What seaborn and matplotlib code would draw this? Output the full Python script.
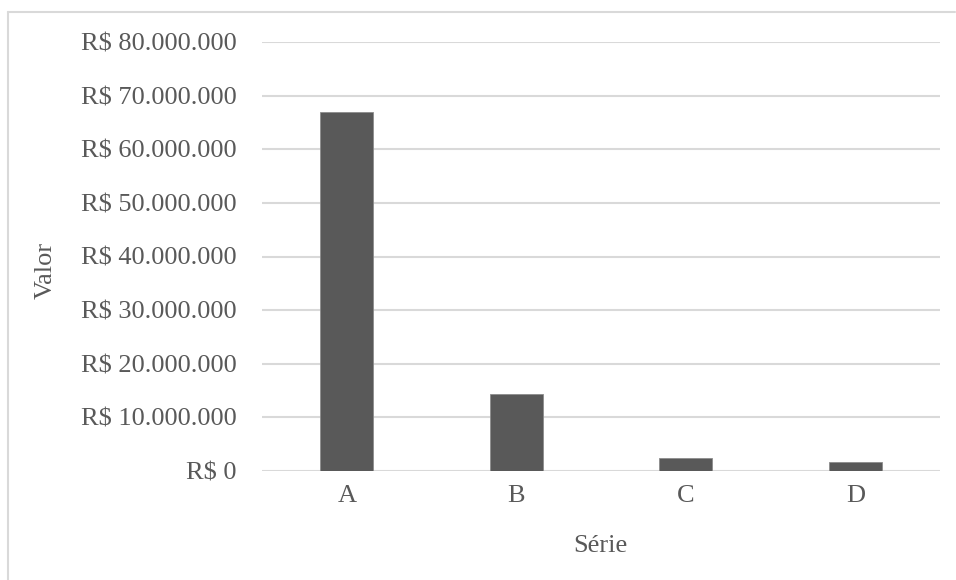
import matplotlib
matplotlib.use('Agg')
import matplotlib.pyplot as plt
import seaborn as sns
import pandas as pd
from matplotlib.ticker import FuncFormatter
from matplotlib.lines import Line2D

# ── Data ─────────────────────────────────────────────────────────────────────
series = ['A', 'B', 'C', 'D']
values = [66_900_000, 14_400_000, 2_400_000, 1_600_000]
y_ticks = list(range(0, 80_000_001, 10_000_000))

df = pd.DataFrame({'Série': series, 'Valor': values})

# ── Style ────────────────────────────────────────────────────────────────────
sns.set_style('white')
plt.rcParams['font.family'] = ['Liberation Serif', 'DejaVu Serif']
TEXT = '#595959'
GRID = '#d9d9d9'

fig = plt.figure(figsize=(9.56, 5.80), dpi=100)
ax = fig.add_axes([262 / 956, 1 - 471 / 580, (940 - 262) / 956, (471 - 42) / 580])

sns.barplot(data=df, x='Série', y='Valor', color='#595959', width=0.31,
            saturation=1, ax=ax, zorder=3, edgecolor='#8c8c8c', linewidth=0.6)

ax.set_ylim(0, 80_000_000)
ax.set_xlim(-0.5, 3.5)
ax.set_yticks(y_ticks)
ax.yaxis.set_major_formatter(
    FuncFormatter(lambda v, _: 'R$ ' + f'{int(v):,}'.replace(',', '.')))
ax.grid(axis='y', color=GRID, linewidth=1.5, zorder=0)
for s in ax.spines.values():
    s.set_visible(False)
ax.tick_params(axis='both', length=0, labelsize=19, labelcolor=TEXT)
ax.tick_params(axis='y', pad=18)
ax.tick_params(axis='x', pad=10)

fig.text(46 / 956, 1 - 270 / 580, 'Valor', rotation=90, ha='center', va='center',
         fontsize=19, color=TEXT)
fig.text(600 / 956, 1 - 546 / 580, 'Série', ha='center', va='center',
         fontsize=19, color=TEXT)
ax.set_xlabel('')
ax.set_ylabel('')

# chart-area border (top and left visible)
fig.add_artist(Line2D([8 / 956, 955 / 956], [1 - 12 / 580, 1 - 12 / 580],
                      transform=fig.transFigure, color=GRID, linewidth=1.5))
fig.add_artist(Line2D([8 / 956, 8 / 956], [1 - 12 / 580, 0],
                      transform=fig.transFigure, color=GRID, linewidth=1.5))

fig.savefig('out.png', dpi=100, facecolor='white')
